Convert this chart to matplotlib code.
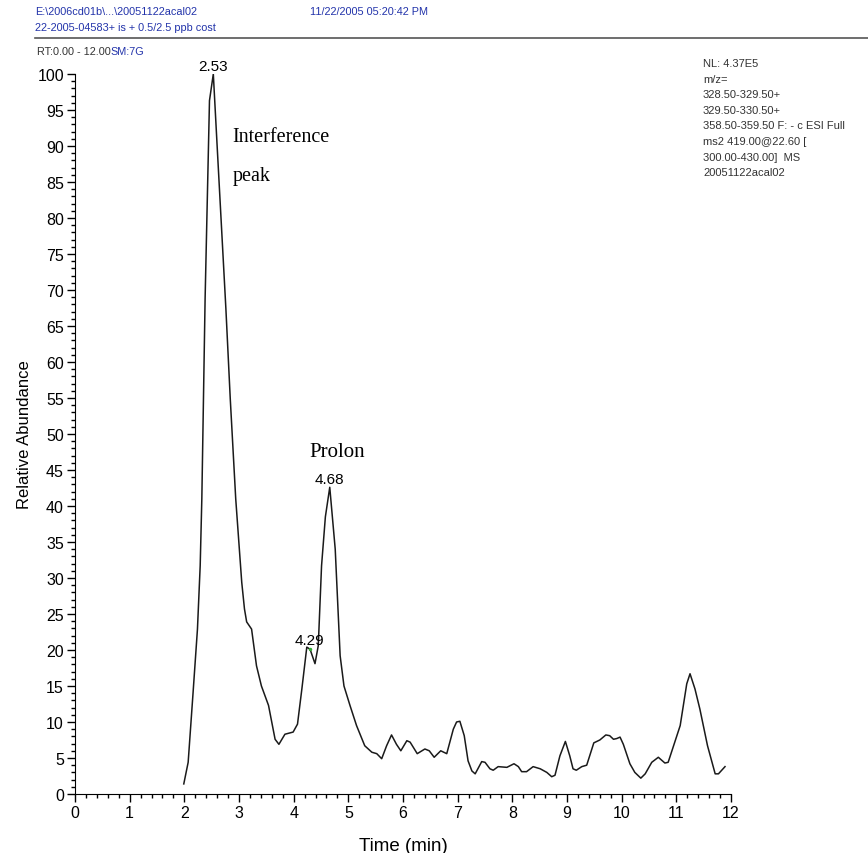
import matplotlib.pyplot as plt
import numpy as np
from matplotlib.ticker import MultipleLocator

plt.rcParams['font.family'] = ['Liberation Sans', 'DejaVu Sans']

# chromatogram trace (time in min, relative abundance in %)
time_min = [1.99, 2.07, 2.16, 2.24, 2.29, 2.32, 2.35, 2.38, 2.46, 2.53, 2.60,
            2.76, 2.84, 2.94, 3.05, 3.10, 3.14, 3.23, 3.32, 3.41, 3.54, 3.66,
            3.73, 3.84, 3.99, 4.07, 4.15, 4.24, 4.30, 4.39, 4.45, 4.51, 4.58,
            4.66, 4.76, 4.85, 4.92, 5.03, 5.15, 5.30, 5.43, 5.52, 5.61, 5.70,
            5.79, 5.88, 5.96, 6.07, 6.13, 6.26, 6.40, 6.48, 6.57, 6.69, 6.80,
            6.92, 6.98, 7.04, 7.12, 7.19, 7.26, 7.32, 7.44, 7.50, 7.59, 7.65,
            7.74, 7.90, 8.03, 8.11, 8.17, 8.26, 8.38, 8.51, 8.63, 8.72, 8.78,
            8.87, 8.97, 9.05, 9.11, 9.17, 9.27, 9.36, 9.49, 9.60, 9.71, 9.78,
            9.85, 9.91, 9.97, 10.03, 10.15, 10.24, 10.35, 10.43, 10.55, 10.67,
            10.79, 10.85, 11.07, 11.19, 11.25, 11.34, 11.43, 11.57, 11.71,
            11.77, 11.89]
abundance = [1.4, 4.4, 14.1, 22.9, 31.7, 41.0, 54.9, 68.8, 96.3, 100.0, 90.0,
             67.4, 54.9, 41.0, 29.4, 25.7, 23.9, 22.9, 17.8, 15.0, 12.3, 7.6,
             6.9, 8.3, 8.6, 9.7, 14.6, 20.4, 20.1, 18.1, 20.6, 31.7, 38.5,
             42.6, 34.0, 19.2, 15.0, 12.3, 9.5, 6.7, 5.8, 5.6, 4.9, 6.7,
             8.2, 6.9, 6.0, 7.4, 7.2, 5.6, 6.25, 6.0, 5.1, 6.0, 5.6,
             9.0, 10.0, 10.1, 8.1, 4.6, 3.2, 2.8, 4.5, 4.4, 3.5, 3.3,
             3.8, 3.7, 4.2, 3.8, 3.1, 3.1, 3.8, 3.5, 3.0, 2.4, 2.6,
             5.3, 7.3, 5.3, 3.5, 3.3, 3.8, 4.0, 7.1, 7.5, 8.2, 8.1,
             7.6, 7.7, 7.9, 6.9, 4.2, 3.0, 2.2, 2.8, 4.4, 5.1,
             4.3, 4.4, 9.5, 15.3, 16.7, 14.6, 11.8, 6.7, 2.8,
             2.8, 3.8]

peak_times = ['2.53', '4.68', '4.29']
peak_pos = [(2.53, 100.0), (4.66, 42.6), (4.29, 20.2)]

info_lines = ['NL: 4.37E5', 'm/z=', '328.50-329.50+', '329.50-330.50+',
              '358.50-359.50 F: - c ESI Full', 'ms2 419.00@22.60 [',
              '300.00-430.00]  MS', '20051122acal02']

fig = plt.figure(figsize=(8.68, 8.54), dpi=100)
ax = fig.add_axes([0.0864, 0.0691, 0.7558, 0.8431])

ax.plot(time_min, abundance, color='#1a1a1a', lw=1.1)

ax.set_xlim(0, 12)
ax.set_ylim(0, 100)
ax.xaxis.set_major_locator(MultipleLocator(1))
ax.xaxis.set_minor_locator(MultipleLocator(0.2))
ax.yaxis.set_major_locator(MultipleLocator(5))
ax.yaxis.set_minor_locator(MultipleLocator(1))
ax.tick_params(which='major', length=6, width=1, labelsize=11.5, pad=2)
ax.tick_params(which='minor', length=3, width=1)
for s in ['top', 'right']:
    ax.spines[s].set_visible(False)

ax.set_xlabel('Time (min)', fontsize=13.5, labelpad=12)
ax.set_ylabel('Relative Abundance', fontsize=12, labelpad=4)

# peak labels
for lab, (px, py) in zip(peak_times, peak_pos):
    ax.annotate(lab, (px, py), xytext=(0, 1), textcoords='offset points',
                ha='center', va='bottom', fontsize=11, clip_on=False)
ax.plot([4.29], [20.2], marker='.', color='#33aa33', ms=3)

ax.text(2.88, 90.7, 'Interference', family='Liberation Serif', fontsize=14.5)
ax.text(2.88, 85.3, 'peak', family='Liberation Serif', fontsize=14.5)
ax.text(4.28, 47, 'Prolon', family='Liberation Serif', fontsize=15)

# header
blue = '#2233aa'
hs = 7.8
fig.text(35 / 868, 1 - 12 / 854, 'E:\\2006cd01b\\...\\20051122acal02',
         color=blue, fontsize=hs, va='center')
fig.text(310 / 868, 1 - 12 / 854, '11/22/2005 05:20:42 PM',
         color=blue, fontsize=hs, va='center')
fig.text(35 / 868, 1 - 28 / 854, '22-2005-04583+ is + 0.5/2.5 ppb cost',
         color=blue, fontsize=hs, va='center')
fig.add_artist(plt.Line2D([35 / 868, 1.0], [1 - 39 / 854, 1 - 39 / 854],
                          color='#555555', lw=1.2))
t1 = fig.text(37 / 868, 1 - 52 / 854, 'RT:0.00 - 12.00', color='#333333',
              fontsize=hs, va='center')
fig.canvas.draw()
bb = t1.get_window_extent().transformed(fig.transFigure.inverted())
fig.text(bb.x1, 1 - 52 / 854, 'SM:7G', color=blue, fontsize=hs, va='center')

# instrument info, top right
for i, line in enumerate(info_lines):
    fig.text(703 / 868, 1 - (64 + i * 15.6) / 854, line, color='#333333',
             fontsize=8, va='center')

plt.savefig('out.png', dpi=100)
